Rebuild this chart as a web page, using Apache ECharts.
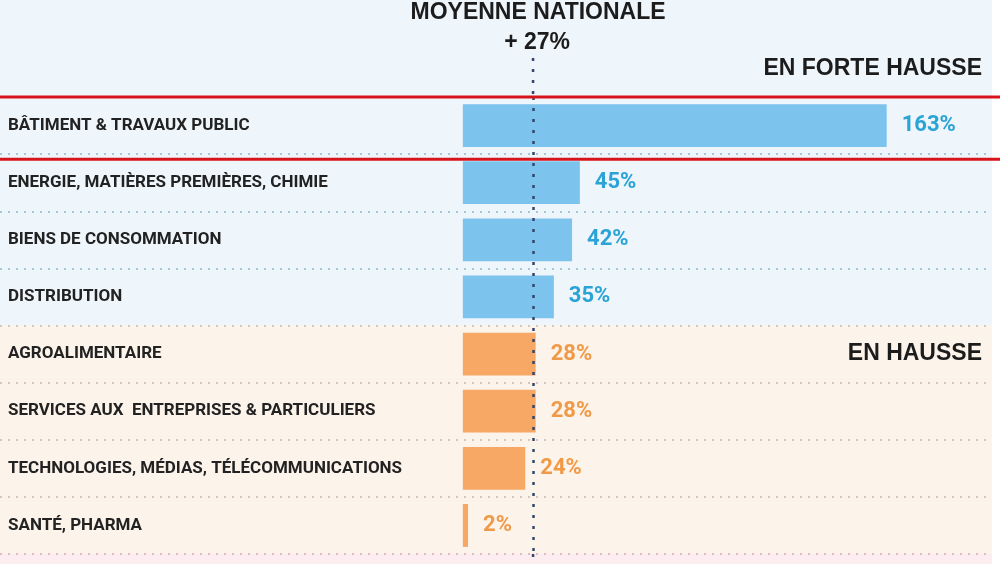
<!DOCTYPE html>
<html>
<head>
<meta charset="utf-8">
<script src="https://cdn.jsdelivr.net/npm/echarts@6/dist/echarts.min.js"></script>
<style>
html,body{margin:0;padding:0;background:#ffffff;}
#main{width:1000px;height:564px;}
</style>
</head>
<body>
<div id="main"></div>
<script>
const categories = [
  'BÂTIMENT & TRAVAUX PUBLIC',
  'ENERGIE, MATIÈRES PREMIÈRES, CHIMIE',
  'BIENS DE CONSOMMATION',
  'DISTRIBUTION',
  'AGROALIMENTAIRE',
  'SERVICES AUX  ENTREPRISES & PARTICULIERS',
  'TECHNOLOGIES, MÉDIAS, TÉLÉCOMMUNICATIONS',
  'SANTÉ, PHARMA'
];
const values = [163, 45, 42, 35, 28, 28, 24, 2];
const groups = ['forte', 'forte', 'forte', 'forte', 'hausse', 'hausse', 'hausse', 'hausse'];
const nationalAverage = 27;
const averageTitle = 'MOYENNE NATIONALE';
const groupTitles = { forte: 'EN FORTE HAUSSE', hausse: 'EN HAUSSE' };

const barColors = { forte: '#7cc3ee', hausse: '#f6a864' };
const labelColors = { forte: '#2aa3d6', hausse: '#f09a48' };
const narrow = 'Roboto, "Liberation Sans Narrow", sans-serif';
const wide = '"Liberation Sans", Arial, sans-serif';

const chart = echarts.init(document.getElementById('main'), null, { renderer: 'canvas' });

const option = {
  backgroundColor: '#ffffff',
  animation: false,
  grid: { left: 0, right: 8, top: 97, bottom: 10 },
  xAxis: { type: 'value', min: -178, max: 203.5, show: false },
  yAxis: {
    type: 'category',
    data: categories,
    inverse: true,
    axisLine: { show: false, onZero: false },
    axisTick: { show: false },
    axisLabel: {
      inside: true,
      margin: 8,
      fontFamily: narrow,
      fontWeight: 'bold',
      fontSize: 17,
      color: '#222222',
      padding: [4, 0, 0, 0]
    },
    splitLine: {
      show: true,
      lineStyle: {
        type: [2, 6],
        width: 2,
        color: ['#a8c6da', '#a8c6da', '#a8c6da', '#a8c6da', '#d8c4b8', '#d8c4b8', '#d8c4b8', '#d8c4b8', '#e4b6c6']
      }
    }
  },
  series: [{
    type: 'bar',
    z: 3,
    barCategoryGap: '25%',
    data: values.map((v, i) => ({
      value: v,
      itemStyle: { color: barColors[groups[i]] },
      label: { color: labelColors[groups[i]] }
    })),
    label: {
      show: true,
      position: 'right',
      distance: 15,
      formatter: '{c}%',
      fontFamily: narrow,
      fontWeight: 'bold',
      fontSize: 22
    },
    markLine: {
      silent: true,
      symbol: 'none',
      label: { show: false },
      lineStyle: { type: [3, 8], color: '#34476b', width: 2.5 },
      data: [{ xAxis: nationalAverage }]
    }
  }]
};
chart.setOption(option);

// Decorations positioned via the library's own scales
const px = v => chart.convertToPixel({ xAxisIndex: 0 }, v);
const py = i => chart.convertToPixel({ yAxisIndex: 0 }, categories[i]);
const band = py(1) - py(0);
const n = categories.length;
const edge = i => (i < n ? py(i) - band / 2 : py(n - 1) + band / 2);
const firstHausse = groups.indexOf('hausse');
const avgX = px(nationalAverage);
const W = chart.getWidth(), H = chart.getHeight();
const gridRight = px(203.5);

chart.setOption({
  graphic: [
    { type: 'rect', z: -10, silent: true, shape: { x: 0, y: 0, width: gridRight, height: edge(firstHausse) }, style: { fill: '#eef5fb' } },
    { type: 'rect', z: -10, silent: true, shape: { x: 0, y: edge(firstHausse), width: gridRight, height: edge(n) - edge(firstHausse) }, style: { fill: '#fcf3eb' } },
    { type: 'rect', z: -10, silent: true, shape: { x: 0, y: edge(n), width: gridRight, height: H - edge(n) }, style: { fill: '#fcedf1' } },
    { type: 'line', z: 10, silent: true, shape: { x1: 0, y1: edge(0), x2: W, y2: edge(0) }, style: { stroke: '#d7141c', lineWidth: 3 } },
    { type: 'line', z: 10, silent: true, shape: { x1: 0, y1: edge(1) + 5, x2: W, y2: edge(1) + 5 }, style: { stroke: '#d7141c', lineWidth: 3 } },
    { type: 'line', z: 5, silent: true, shape: { x1: avgX, y1: 58, x2: avgX, y2: edge(0) }, style: { stroke: '#34476b', lineWidth: 2.5, lineDash: [3, 8] } },
    { type: 'line', z: 5, silent: true, shape: { x1: avgX, y1: edge(n), x2: avgX, y2: H }, style: { stroke: '#34476b', lineWidth: 2.5, lineDash: [3, 8] } },
    { type: 'text', z: 10, silent: true, x: avgX + 5, y: 13, style: { text: averageTitle, font: 'bold 23px ' + wide, fill: '#1c1c1c', align: 'center', verticalAlign: 'middle' } },
    { type: 'text', z: 10, silent: true, x: avgX + 4, y: 43, style: { text: '+ ' + nationalAverage + '%', font: 'bold 23px ' + wide, fill: '#1c1c1c', align: 'center', verticalAlign: 'middle' } },
    { type: 'text', z: 10, silent: true, x: 982, y: 69, style: { text: groupTitles.forte, font: 'bold 23px ' + wide, fill: '#1c1c1c', align: 'right', verticalAlign: 'middle' } },
    { type: 'text', z: 10, silent: true, x: 982, y: py(firstHausse), style: { text: groupTitles.hausse, font: 'bold 23px ' + wide, fill: '#1c1c1c', align: 'right', verticalAlign: 'middle' } }
  ]
});
</script>
</body>
</html>
